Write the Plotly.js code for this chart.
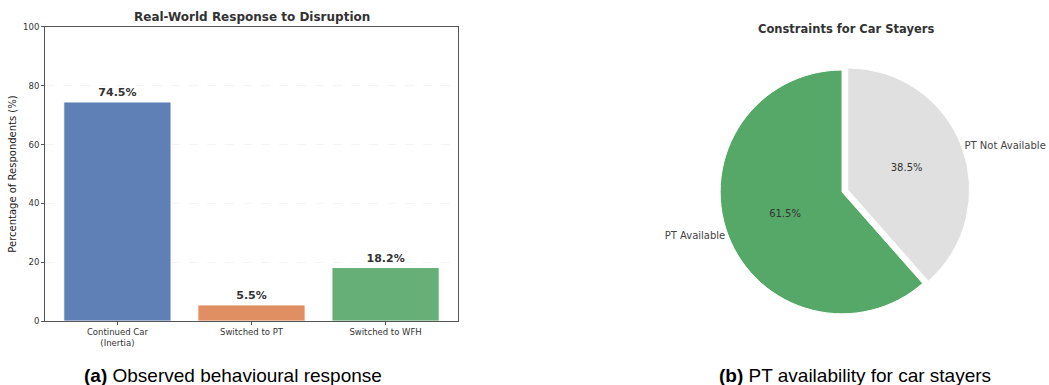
<!DOCTYPE html>
<html><head><meta charset="utf-8">
<script src="https://cdn.plot.ly/plotly-3.0.1.min.js"></script>
<style>html,body{margin:0;padding:0;background:#fff}#chart{width:1049px;height:385px}</style>
</head><body><div id="chart"></div>
<script>
const barCategories = ["Continued Car<br>(Inertia)", "Switched to PT", "Switched to WFH"];
const barValues = [74.5, 5.5, 18.2];
const barColors = ["#5F80B6", "#E08F63", "#66B077"];
const yTicks = [0, 20, 40, 60, 80, 100];

const pieLabels = ["PT Not Available", "PT Available"];
const pieValues = [38.5, 61.5];
const pieColors = ["#E0E0E0", "#55A868"];
const piePull = [0.05, 0];

const font = "DejaVu Sans, sans-serif";
const pieDomain = {x: [0.6807, 0.9247], y: [0.169, 0.834]};

const traces = [
  {
    type: "bar", x: [0, 1, 2], y: barValues, width: 0.8,
    marker: {color: barColors, line: {color: "#ffffff", width: 1}},
    text: barValues.map(v => "<b>" + v.toFixed(1) + "%</b>"),
    textposition: "outside", cliponaxis: false,
    textfont: {family: font, size: 11, color: "#333"},
    hoverinfo: "skip", xaxis: "x", yaxis: "y"
  },
  {
    type: "pie", labels: pieLabels, values: pieValues, sort: false,
    direction: "clockwise", rotation: 0, pull: piePull,
    domain: pieDomain,
    marker: {colors: pieColors, line: {color: "#ffffff", width: 1}},
    textinfo: "percent", texttemplate: "%{percent:.1%}",
    textposition: "inside", insidetextorientation: "horizontal",
    textfont: {family: font, size: 10, color: "#333"},
    showlegend: false, hoverinfo: "skip"
  },
  {
    type: "pie", labels: pieLabels, values: pieValues, sort: false,
    direction: "clockwise", rotation: 0, pull: piePull,
    domain: pieDomain,
    marker: {colors: ["rgba(0,0,0,0)", "rgba(0,0,0,0)"], line: {width: 0}},
    textinfo: "label", textposition: "outside",
    outsidetextfont: {family: font, size: 10, color: "#444"},
    showlegend: false, hoverinfo: "skip"
  }
];

const layout = {
  width: 1049, height: 385,
  margin: {l: 0, r: 0, t: 0, b: 0},
  paper_bgcolor: "#ffffff", plot_bgcolor: "#ffffff",
  showlegend: false,
  font: {family: font, color: "#333"},
  xaxis: {
    domain: [0.0429, 0.4366], range: [-0.54, 2.54],
    tickvals: [0, 1, 2], ticktext: barCategories,
    tickfont: {family: font, size: 8.5, color: "#333"},
    ticks: "outside", ticklen: 3, tickcolor: "#555",
    showline: true, linecolor: "#555", linewidth: 1, mirror: true,
    showgrid: false, zeroline: false, fixedrange: true
  },
  yaxis: {
    domain: [0.166, 0.930], range: [0, 100],
    tickvals: yTicks, ticktext: yTicks.map(String),
    tickfont: {family: font, size: 8.5, color: "#333"},
    ticks: "outside", ticklen: 3, tickcolor: "#555",
    showline: true, linecolor: "#555", linewidth: 1, mirror: true,
    showgrid: true, gridcolor: "#ececec", griddash: "dash", gridwidth: 0.6,
    zeroline: false,
    title: {text: "Percentage of Respondents (%)", font: {family: font, size: 10, color: "#222"}, standoff: 4}
  },
  annotations: [
    {text: "<b>Real-World Response to Disruption</b>", xref: "paper", yref: "paper",
     x: 0.2398, y: 1 - 17/385, xanchor: "center", yanchor: "middle", showarrow: false,
     font: {family: font, size: 12, color: "#333"}},
    {text: "<b>Constraints for Car Stayers</b>", xref: "paper", yref: "paper",
     x: 846/1049, y: 1 - 29/385, xanchor: "center", yanchor: "middle", showarrow: false,
     font: {family: font, size: 11.5, color: "#333"}},
    {text: "<b>(a)</b> Observed behavioural response", xref: "paper", yref: "paper",
     x: 233/1049, y: 1 - 375/385, xanchor: "center", yanchor: "middle", showarrow: false,
     font: {family: "Liberation Sans, Arial, sans-serif", size: 19, color: "#000"}},
    {text: "<b>(b)</b> PT availability for car stayers", xref: "paper", yref: "paper",
     x: 855/1049, y: 1 - 375/385, xanchor: "center", yanchor: "middle", showarrow: false,
     font: {family: "Liberation Sans, Arial, sans-serif", size: 19, color: "#000"}}
  ]
};

Plotly.newPlot("chart", traces, layout, {staticPlot: true, displayModeBar: false});
</script>
</body></html>
